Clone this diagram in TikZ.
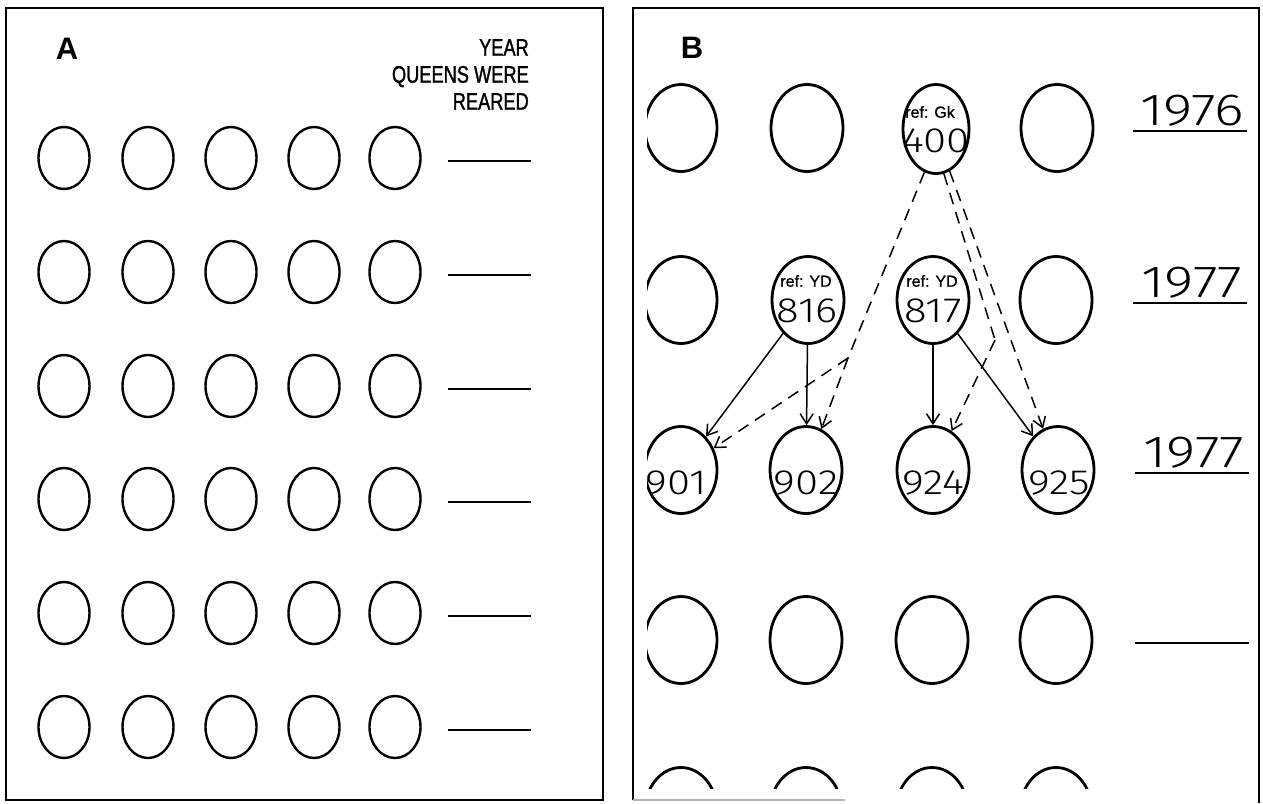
\documentclass[tikz,border=0pt]{standalone}
\usepackage{fontspec}
\setmainfont{Liberation Sans}
\newfontfamily\condfont[FakeStretch=0.76,FakeBold=1.2]{Liberation Sans}
\newfontfamily\medfont[FakeBold=1.0]{Liberation Sans}
\newfontfamily\thinfont[FakeStretch=1.2]{Fira Sans Light}
\newfontfamily\yrfont[FakeStretch=1.25]{Fira Sans Light}
\usetikzlibrary{shapes.geometric,arrows.meta}
\begin{document}
\begin{tikzpicture}[x=1pt,y=-1pt,
  eggA/.style={draw,ellipse,line width=2.4pt,minimum width=51pt,minimum height=62pt,inner sep=0pt},
  eggB/.style={draw,ellipse,line width=2.8pt,minimum width=72pt,minimum height=87pt,inner sep=0pt},
  frame/.style={line width=1.8pt},
  blank/.style={line width=2.4pt},
  num/.style={font=\thinfont\fontsize{35}{35}\selectfont,inner sep=0pt},
  reftxt/.style={font=\medfont\fontsize{16}{16}\selectfont,inner sep=0pt},
  yr/.style={font=\yrfont\fontsize{45}{45}\selectfont,inner sep=0pt,anchor=base},
  panlabel/.style={font=\bfseries\fontsize{31}{31}\selectfont,inner sep=0pt},
  solidarrow/.style={line width=1.5pt,-{Straight Barb[length=10pt,width=13pt]}},
  dasharrow/.style={line width=1.5pt,dash pattern=on 12pt off 8pt,-{Straight Barb[length=10pt,width=13pt]}},
  dashline/.style={line width=1.5pt,dash pattern=on 12pt off 8pt},
]
\useasboundingbox (0,0) rectangle (1263,803);
\fill[white] (0,0) rectangle (1263,803);

% ---------- Panel A ----------
\draw[frame] (6,8) rectangle (603,800);
\node[panlabel] (labA) at (67,49) {A};
\node[font=\condfont\fontsize{24}{27}\selectfont,align=right,inner sep=0pt,anchor=north east] (hdr) at (529,39) {YEAR\\QUEENS WERE\\REARED};
\foreach \r [count=\i] in {158,272,386,499,613,727} {
  \foreach \c [count=\j] in {64,148,231,314,395} {
    \node[eggA] (a\i\j) at (\c,\r) {};
  }
  \draw[blank] (448,\r+3) -- (531,\r+3);
}

% ---------- Panel B ----------
\draw[frame] (633,800) -- (633,8) -- (1259,8) -- (1259,803);
\draw[frame,gray!60] (633,800) -- (845,800);
\node[panlabel] (labB) at (692,48) {B};

\begin{scope}
\clip (647,0) rectangle (1259,788);
% row 1
\node[eggB] (b11) at (681,128) {};
\node[eggB] (b12) at (807,128) {};
\node[eggB,minimum width=66pt,minimum height=89pt] (n400) at (936,129) {};
\node[eggB] (b14) at (1057,128) {};
% row 2
\node[eggB] (b21) at (681,300) {};
\node[eggB] (n816) at (808,300) {};
\node[eggB] (n817) at (933,300) {};
\node[eggB] (b24) at (1056,300) {};
% row 3
\node[eggB] (n901) at (681,470) {};
\node[eggB] (n902) at (806,470) {};
\node[eggB] (n924) at (933,470) {};
\node[eggB] (n925) at (1058,470) {};
% row 4
\node[eggB] (b41) at (681,640) {};
\node[eggB] (b42) at (806,640) {};
\node[eggB] (b43) at (932,640) {};
\node[eggB] (b44) at (1056,640) {};
% row 5
\node[eggB] (b51) at (681,811) {};
\node[eggB] (b52) at (806,811) {};
\node[eggB] (b53) at (932,811) {};
\node[eggB] (b54) at (1056,811) {};
% texts
\node[reftxt] (t400r) at (930,112) {ref: Gk};
\node[num] (t400) at (936,141) {400};
\node[reftxt] (t816r) at (806,281) {ref: YD};
\node[num] (t816) at (807,311) {816};
\node[reftxt] (t817r) at (932,281) {ref: YD};
\node[num] (t817) at (933,311) {817};
\node[num] (t901) at (676,483) {901};
\node[num] (t902) at (806,483) {902};
\node[num] (t924) at (933,483) {924};
\node[num] (t925) at (1059,483) {925};
\end{scope}

% year labels
\node[yr] (y1) at (1192,125) {1976};
\draw[blank] (1133,131) -- (1247,131);
\node[yr] (y2) at (1192,297) {1977};
\draw[blank] (1133,303) -- (1247,303);
\node[yr] (y3) at (1194,467) {1977};
\draw[blank] (1135,473) -- (1249,473);
\draw[blank] (1135,643) -- (1249,643);

% connectors
\coordinate (k1) at (848,358);
\coordinate (k2) at (995,340);
\draw[solidarrow] (n816) -- (n901);
\draw[solidarrow] (n816) -- (n902);
\draw[solidarrow] (n817) -- (n924);
\draw[solidarrow] (n817) -- (n925);
\draw[dashline] (n400.-105) -- (k1);
\draw[dasharrow] (k1) -- (n901);
\draw[dasharrow] (k1) -- (n902);
\draw[dashline] (n400.-80) -- (k2);
\draw[dasharrow] (k2) -- (n924);
\draw[dasharrow] (n400.-72) -- (n925);
\end{tikzpicture}
\end{document}
